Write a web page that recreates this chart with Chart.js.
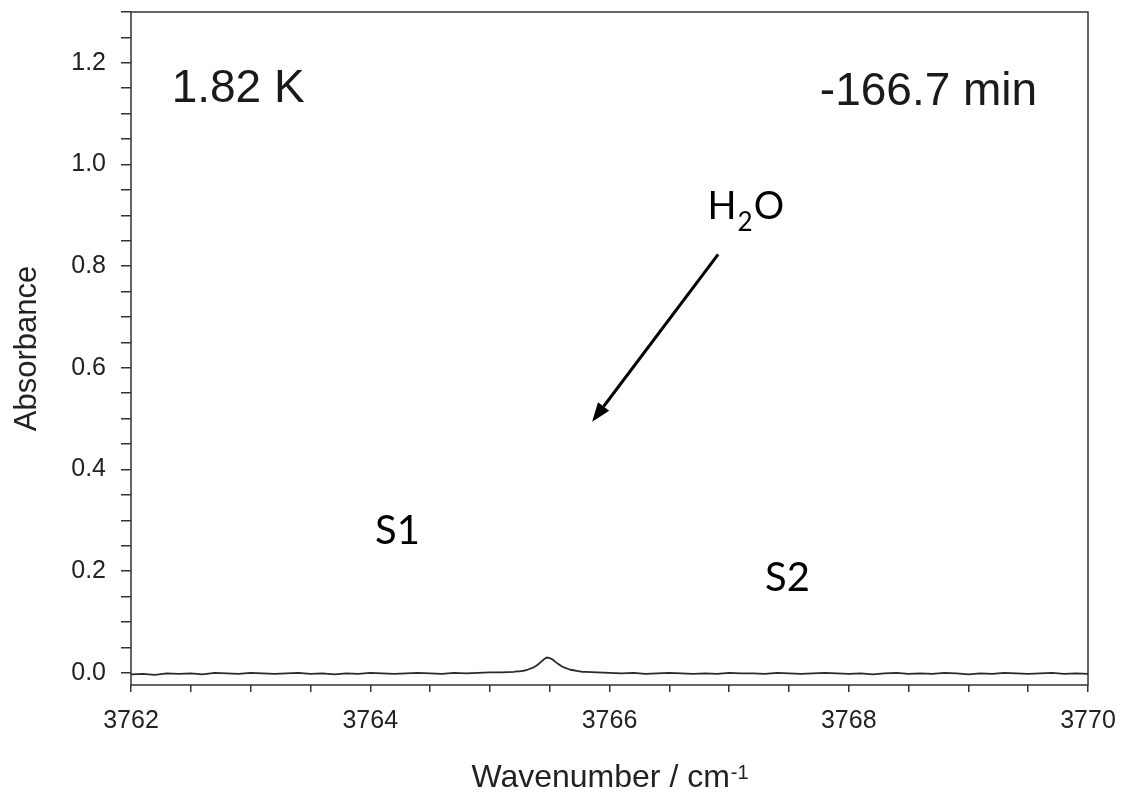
<!DOCTYPE html>
<html>
<head>
<meta charset="utf-8">
<script src="https://cdn.jsdelivr.net/npm/chart.js@4.4.1/dist/chart.umd.min.js"></script>
<style>
  body { margin: 0; background: #fff; }
  #wrap { width: 1123px; height: 799px; }
</style>
</head>
<body>
<div id="wrap"><canvas id="spectrum" width="1123" height="799"></canvas></div>
<script>
// Wavenumber (cm-1) and absorbance
const wavenumbers = [
  3762.0, 3762.1, 3762.2, 3762.3, 3762.4, 3762.5, 3762.6, 3762.7, 3762.8, 3762.9,
  3763.0, 3763.1, 3763.2, 3763.3, 3763.4, 3763.5, 3763.6, 3763.7, 3763.8, 3763.9,
  3764.0, 3764.1, 3764.2, 3764.3, 3764.4, 3764.5, 3764.6, 3764.7, 3764.8, 3764.9,
  3765.0, 3765.1,
  3765.2, 3765.225, 3765.25, 3765.275, 3765.3, 3765.325, 3765.35, 3765.375, 3765.4,
  3765.425, 3765.45, 3765.475, 3765.5, 3765.525, 3765.55, 3765.575, 3765.6, 3765.625,
  3765.65, 3765.675, 3765.7, 3765.725, 3765.75, 3765.775, 3765.8,
  3765.9, 3766.0, 3766.1, 3766.2, 3766.3, 3766.4, 3766.5, 3766.6, 3766.7, 3766.8,
  3766.9, 3767.0, 3767.1, 3767.2, 3767.3, 3767.4, 3767.5, 3767.6, 3767.7, 3767.8,
  3767.9, 3768.0, 3768.1, 3768.2, 3768.3, 3768.4, 3768.5, 3768.6, 3768.7, 3768.8,
  3768.9, 3769.0, 3769.1, 3769.2, 3769.3, 3769.4, 3769.5, 3769.6, 3769.7, 3769.8,
  3769.9, 3770.0
];
const absorbance = [
  -0.003, -0.002, -0.004, -0.001, -0.002, -0.001, -0.003, 0.000, -0.001, -0.002,
  0.000, -0.001, -0.002, -0.001, 0.000, -0.002, -0.001, -0.003, -0.001, -0.002,
  0.000, -0.001, -0.002, -0.001, 0.000, -0.001, -0.002, 0.000, -0.001, 0.000,
  0.001, 0.001,
  0.002, 0.003, 0.003, 0.004, 0.005, 0.007, 0.009, 0.012, 0.016,
  0.021, 0.026, 0.030, 0.029, 0.026, 0.021, 0.017, 0.013, 0.010,
  0.008, 0.006, 0.005, 0.004, 0.003, 0.002, 0.002,
  0.001, 0.000, -0.001, 0.000, -0.002, -0.001, 0.000, -0.001, -0.002, -0.001,
  -0.002, 0.000, -0.001, -0.001, -0.002, 0.000, -0.001, -0.002, -0.001, 0.000,
  -0.001, -0.002, -0.001, -0.003, -0.001, 0.000, -0.002, -0.001, -0.002, 0.000,
  -0.001, -0.003, -0.001, -0.002, 0.000, -0.001, -0.002, -0.001, 0.000, -0.002,
  -0.001, -0.002
];

// Axis ranges and ticks
const xRange = [3762, 3770];
const yRange = [-0.024, 1.3];
const xLabelEvery = 2;
const yLabelEvery = 0.2;
const yTickStep = 0.05;
const yTickValues = [];
for (let i = 0; i <= 26; i++) yTickValues.push(Math.round(i * yTickStep * 100) / 100);

// Figure annotations, anchored in data units
const cornerLabels = [
  { text: "1.82 K", x: 3762.34, y: 1.122, align: "left" },
  { text: "-166.7 min", x: 3769.575, y: 1.118, align: "right" },
];
const siteLabels = [
  { text: "S1", x: 3764.04, y: 0.254 },
  { text: "S2", x: 3767.3, y: 0.161 },
];
const waterLabel = { x: 3766.82, y: 0.892 };
const waterArrow = { from: [3766.908, 0.823], to: [3765.855, 0.494] };

const isMultiple = (v, step) => {
  const k = v / step;
  return Math.abs(k - Math.round(k)) < 1e-6;
};

// Frame, text and arrow drawn on top of the chart
const figurePlugin = {
  id: "figureExtras",
  afterDraw(chart) {
    const { ctx, chartArea: a, scales } = chart;
    const px = (v) => scales.x.getPixelForValue(v);
    const py = (v) => scales.y.getPixelForValue(v);
    ctx.save();

    ctx.strokeStyle = "#333";
    ctx.lineWidth = 1.5;
    ctx.strokeRect(a.left, a.top, a.right - a.left, a.bottom - a.top);

    ctx.fillStyle = "#1a1a1a";
    ctx.textBaseline = "alphabetic";
    ctx.font = '46px "Liberation Sans", Arial, sans-serif';
    cornerLabels.forEach((l) => {
      ctx.textAlign = l.align;
      ctx.fillText(l.text, px(l.x), py(l.y));
    });

    // x-axis title with superscript
    ctx.textAlign = "left";
    const main = "Wavenumber / cm";
    const sup = "-1";
    ctx.font = '32px "Liberation Sans", Arial, sans-serif';
    const wMain = ctx.measureText(main).width;
    ctx.font = '20px "Liberation Sans", Arial, sans-serif';
    const wSup = ctx.measureText(sup).width;
    const startX = (a.left + a.right) / 2 - (wMain + wSup) / 2;
    ctx.fillStyle = "#222";
    ctx.font = '32px "Liberation Sans", Arial, sans-serif';
    ctx.fillText(main, startX, 787);
    ctx.font = '20px "Liberation Sans", Arial, sans-serif';
    ctx.fillText(sup, startX + wMain + 1, 779);

    // S1 / S2 and H2O
    ctx.fillStyle = "#000";
    ctx.font = '40px Lato, "Open Sans", sans-serif';
    siteLabels.forEach((l) => ctx.fillText(l.text, px(l.x), py(l.y)));

    let hx = px(waterLabel.x);
    const hy = py(waterLabel.y);
    ctx.font = '38px Lato, "Open Sans", sans-serif';
    ctx.fillText("H", hx, hy);
    hx += ctx.measureText("H").width + 1;
    ctx.font = '26px Lato, "Open Sans", sans-serif';
    ctx.fillText("2", hx, hy + 12);
    hx += ctx.measureText("2").width + 1;
    ctx.font = '38px Lato, "Open Sans", sans-serif';
    ctx.fillText("O", hx, hy);

    // Arrow pointing at the water band
    const x1 = px(waterArrow.from[0]), y1 = py(waterArrow.from[1]);
    const x2 = px(waterArrow.to[0]), y2 = py(waterArrow.to[1]);
    const ang = Math.atan2(y2 - y1, x2 - x1);
    const headLen = 19, headHalf = 7;
    const bx = x2 - headLen * Math.cos(ang), by = y2 - headLen * Math.sin(ang);
    ctx.strokeStyle = "#000";
    ctx.lineWidth = 3;
    ctx.beginPath();
    ctx.moveTo(x1, y1);
    ctx.lineTo(bx, by);
    ctx.stroke();
    ctx.fillStyle = "#000";
    ctx.beginPath();
    ctx.moveTo(x2, y2);
    ctx.lineTo(bx + headHalf * Math.sin(ang), by - headHalf * Math.cos(ang));
    ctx.lineTo(bx - headHalf * Math.sin(ang), by + headHalf * Math.cos(ang));
    ctx.closePath();
    ctx.fill();

    ctx.restore();
  },
};

const tickFont = { family: '"Liberation Sans", Arial, sans-serif', size: 25 };

const ctx = document.getElementById("spectrum").getContext("2d");
new Chart(ctx, {
  type: "line",
  data: {
    datasets: [
      {
        data: wavenumbers.map((w, i) => ({ x: w, y: absorbance[i] })),
        borderColor: "#2a2a2a",
        borderWidth: 1.8,
        pointRadius: 0,
        tension: 0,
        fill: false,
      },
    ],
  },
  options: {
    responsive: false,
    animation: false,
    devicePixelRatio: 1,
    layout: { padding: { top: 12, right: 35, left: 0, bottom: 0 } },
    plugins: {
      legend: { display: false },
      tooltip: { enabled: false },
    },
    scales: {
      x: {
        type: "linear",
        min: xRange[0],
        max: xRange[1],
        border: { display: false },
        grid: {
          drawOnChartArea: false,
          drawTicks: true,
          tickLength: 7,
          color: "#333",
          lineWidth: 1.5,
        },
        ticks: {
          stepSize: 0.5,
          autoSkip: false,
          maxRotation: 0,
          padding: 14,
          color: "#222",
          font: tickFont,
          callback: (v) => (isMultiple(v, xLabelEvery) ? String(Math.round(v)) : ""),
        },
        afterFit: (scale) => {
          scale.height = 114;
          scale.paddingLeft = 0;
          scale.paddingRight = 0;
        },
      },
      y: {
        type: "linear",
        min: yRange[0],
        max: yRange[1],
        border: { display: false },
        grid: {
          drawOnChartArea: false,
          drawTicks: true,
          tickLength: 10,
          color: "#333",
          lineWidth: 1.5,
        },
        afterBuildTicks: (scale) => {
          scale.ticks = yTickValues.map((v) => ({ value: v }));
        },
        ticks: {
          autoSkip: false,
          padding: 15,
          color: "#222",
          font: tickFont,
          callback: (v) => (v < 1.25 && isMultiple(v, yLabelEvery) ? v.toFixed(1) : ""),
        },
        title: {
          display: true,
          text: "Absorbance",
          color: "#222",
          font: { family: '"Liberation Sans", Arial, sans-serif', size: 31 },
          padding: { top: 9, bottom: 0 },
        },
        afterFit: (scale) => {
          scale.width = 131;
          scale.paddingTop = 0;
          scale.paddingBottom = 0;
        },
      },
    },
  },
  plugins: [figurePlugin],
});
</script>
</body>
</html>
